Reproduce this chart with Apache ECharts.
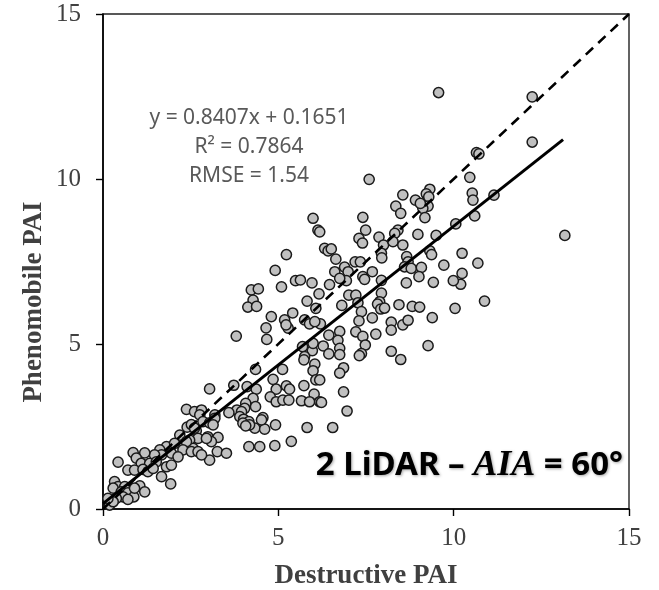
<!DOCTYPE html>
<html><head><meta charset="utf-8">
<script src="https://cdn.jsdelivr.net/npm/echarts@6/dist/echarts.min.js"></script>
<style>html,body{margin:0;padding:0;background:#fff}#c{width:659px;height:590px}</style>
</head><body><div id="c"></div>
<script>
// Destructive PAI (x) and Phenomobile PAI (y)
const destructivePAI = [
9.57,12.24,12.24,10.65,10.72,7.59,10.46,8.55,9.32,9.22,9.29,8.91,8.35,8.49,9.27,9.12,9.18,10.53,10.55,11.15,
10.60,10.06,7.41,7.49,13.17,9.05,5.99,6.13,6.18,8.41,8.32,8.98,9.50,7.30,7.40,7.87,8.00,7.94,7.95,8.27,
8.55,6.32,6.42,6.51,6.64,5.23,7.19,7.34,6.89,6.99,6.61,6.94,6.75,7.41,7.46,7.68,8.66,8.70,8.60,8.79,
9.08,9.01,9.32,9.37,9.72,10.24,10.69,10.24,10.20,9.99,9.42,8.65,7.94,7.94,7.89,4.91,5.49,5.63,5.96,6.46,
5.09,4.23,4.43,6.16,7.01,7.21,10.88,4.28,4.13,4.38,5.82,6.07,6.81,7.27,7.83,7.92,8.03,8.44,8.82,9.03,
10.04,7.37,4.80,5.41,5.18,5.28,5.22,5.75,5.89,6.20,6.04,4.65,4.67,3.80,6.75,6.44,6.70,6.75,7.30,7.21,
7.41,7.48,7.68,8.22,8.22,8.55,8.70,7.78,9.39,9.27,8.22,8.49,7.37,7.31,5.69,5.97,5.99,6.28,6.44,6.75,
5.75,5.73,6.04,5.99,6.07,5.12,4.35,4.85,3.04,3.73,4.11,4.37,4.28,4.94,5.23,5.32,4.77,4.94,5.13,5.30,
5.73,6.02,5.66,5.89,6.18,4.07,4.04,4.35,3.82,3.95,3.90,4.01,4.16,3.59,4.56,6.86,6.75,6.18,6.86,6.23,
6.96,2.38,2.61,2.81,2.76,3.19,4.92,4.33,4.61,4.18,3.99,4.07,4.52,2.40,2.52,2.85,3.04,3.19,2.66,2.71,
2.47,2.99,3.28,3.09,5.82,5.37,6.55,4.16,4.47,4.90,1.81,2.28,2.57,2.61,3.14,2.95,3.26,3.52,3.04,2.19,
2.04,2.38,2.28,2.52,2.71,2.81,1.95,2.14,1.62,1.67,1.47,0.86,1.19,0.95,1.09,1.33,1.52,1.81,1.95,0.71,
0.90,1.14,1.28,1.43,0.43,1.67,1.93,1.05,1.19,0.33,0.43,0.62,0.29,0.52,0.71,0.88,0.57,0.38,0.71,0.90,
0.19,0.29,0.14
];
const phenomobilePAI = [
12.62,12.49,11.12,10.80,10.76,9.99,10.05,9.52,9.69,9.55,9.46,9.36,9.18,8.96,9.18,9.11,8.83,9.57,9.36,9.51,
8.88,8.64,8.84,8.45,8.29,9.26,8.81,8.45,8.40,8.45,8.35,8.32,8.29,8.20,8.06,8.24,8.00,7.75,7.61,8.10,
8.00,7.90,7.82,7.88,7.57,7.71,7.49,7.49,7.33,7.19,7.19,6.92,6.99,7.04,6.96,7.19,7.65,7.49,7.34,7.29,
7.32,7.04,7.82,7.71,7.39,7.75,7.45,7.14,6.81,6.92,6.87,6.85,6.93,6.54,6.28,7.23,6.92,6.94,6.85,6.80,
6.73,6.64,6.67,6.52,6.48,6.48,6.30,6.33,6.12,6.14,6.30,6.08,6.17,6.25,6.21,6.06,6.09,6.19,6.14,6.12,
6.08,5.98,5.83,5.94,5.73,5.48,5.58,5.73,5.61,5.61,5.68,5.49,5.14,5.24,5.38,5.27,5.11,4.87,5.70,5.37,
5.23,4.97,5.79,5.66,5.42,5.58,5.72,5.30,5.80,4.95,4.78,4.53,4.71,4.65,4.92,4.80,5.02,4.94,4.70,4.68,
4.62,4.52,4.39,4.19,3.91,4.23,4.23,3.93,3.64,3.75,3.71,3.63,3.35,3.63,3.73,3.63,3.40,3.25,3.30,3.30,
3.74,3.48,3.28,3.25,3.25,3.20,3.05,3.10,3.00,2.95,2.80,2.72,2.65,2.92,2.77,4.28,4.12,3.91,3.55,3.23,
2.97,3.02,2.95,3.00,2.85,2.85,2.55,2.45,2.42,2.55,2.60,2.52,2.70,2.48,2.56,2.65,2.61,2.75,2.37,2.14,
2.09,2.19,2.17,2.04,2.47,2.05,2.47,1.89,1.89,1.92,1.89,1.89,1.84,2.45,2.55,2.14,1.74,1.69,1.48,2.24,
1.99,2.04,1.79,1.74,1.74,1.64,1.69,1.58,1.79,1.64,1.64,1.71,1.70,1.54,1.38,1.38,1.43,1.28,1.33,1.18,
1.18,1.20,1.13,1.23,1.42,0.98,0.76,0.70,0.52,0.83,0.68,0.68,0.63,0.52,0.49,0.37,0.37,0.32,0.29,0.63,
0.12,0.22,0.32
];
const axisTicks = [0, 5, 10, 15];
const fitSlope = 0.8407, fitIntercept = 0.1651, fitMaxX = 13.12;
const equationLines = ['y = 0.8407x + 0.1651', 'R\u00b2 = 0.7864', 'RMSE = 1.54'];
const xAxisTitle = 'Destructive PAI';
const yAxisTitle = 'Phenomobile PAI';

const points = destructivePAI.map((x, i) => [x, phenomobilePAI[i]]);
const chart = echarts.init(document.getElementById('c'), null, {renderer: 'canvas'});
const tickFont = {fontFamily: 'Liberation Serif', fontSize: 25, color: '#404040'};
const axisCommon = {
  type: 'value', min: axisTicks[0], max: axisTicks[axisTicks.length - 1], interval: axisTicks[1] - axisTicks[0],
  axisLine: {show: true, onZero: false, lineStyle: {color: '#000', width: 1.6}},
  axisTick: {show: true, inside: false, length: 7, lineStyle: {color: '#000', width: 1.4}},
  splitLine: {show: false}
};
chart.setOption({
  animation: false,
  grid: {left: 103, right: 30, top: 14, bottom: 81, show: true, borderColor: '#222', borderWidth: 1.4, containLabel: false},
  xAxis: Object.assign({}, axisCommon, {axisLabel: Object.assign({margin: 17}, tickFont)}),
  yAxis: Object.assign({}, axisCommon, {axisLabel: Object.assign({margin: 22}, tickFont)}),
  series: [
    {
      type: 'scatter', data: points, symbol: 'circle', symbolSize: 10.2, z: 2,
      itemStyle: {color: '#c0c0c0', borderColor: '#1a1a1a', borderWidth: 1.5, opacity: 1}
    },
    {
      type: 'line', data: [[axisTicks[0], axisTicks[0]], [axisTicks[3], axisTicks[3]]], symbol: 'none', z: 3,
      lineStyle: {color: '#000', width: 2.6, type: [10, 7]}
    },
    {
      type: 'line', data: [[0, fitIntercept], [fitMaxX, fitSlope * fitMaxX + fitIntercept]], symbol: 'none', z: 3,
      lineStyle: {color: '#000', width: 3}
    }
  ],
  graphic: [
    ...equationLines.map((t, i) => ({
      type: 'text', x: 249, y: 118 + i * 29, z: 10,
      style: {text: t, fill: '#595959', font: '21px "Noto Sans"', align: 'center', verticalAlign: 'middle'}
    })),
    {
      type: 'text', x: 623, y: 466, z: 10,
      style: {
        text: '{a|2 LiDAR \u2013 }{b|AIA}{a| = 60\u00b0}', align: 'right', verticalAlign: 'middle',
        textShadowColor: 'rgba(0,0,0,0.35)', textShadowBlur: 3, textShadowOffsetX: 1, textShadowOffsetY: 1,
        rich: {
          a: {fontFamily: 'Noto Sans', fontWeight: 'bold', fontSize: 33, fill: '#000', color: '#000'},
          b: {fontFamily: 'Liberation Serif', fontStyle: 'italic', fontWeight: 'bold', fontSize: 36, fill: '#000', color: '#000'}
        }
      }
    },
    {
      type: 'text', x: 366, y: 576, z: 10,
      style: {text: xAxisTitle, fill: '#404040', font: 'bold 27px "Liberation Serif"', align: 'center', verticalAlign: 'middle'}
    },
    {
      type: 'text', x: 34, y: 302, rotation: Math.PI / 2, z: 10,
      style: {text: yAxisTitle, fill: '#404040', font: 'bold 27px "Liberation Serif"', align: 'center', verticalAlign: 'middle'}
    }
  ]
});
</script></body></html>
